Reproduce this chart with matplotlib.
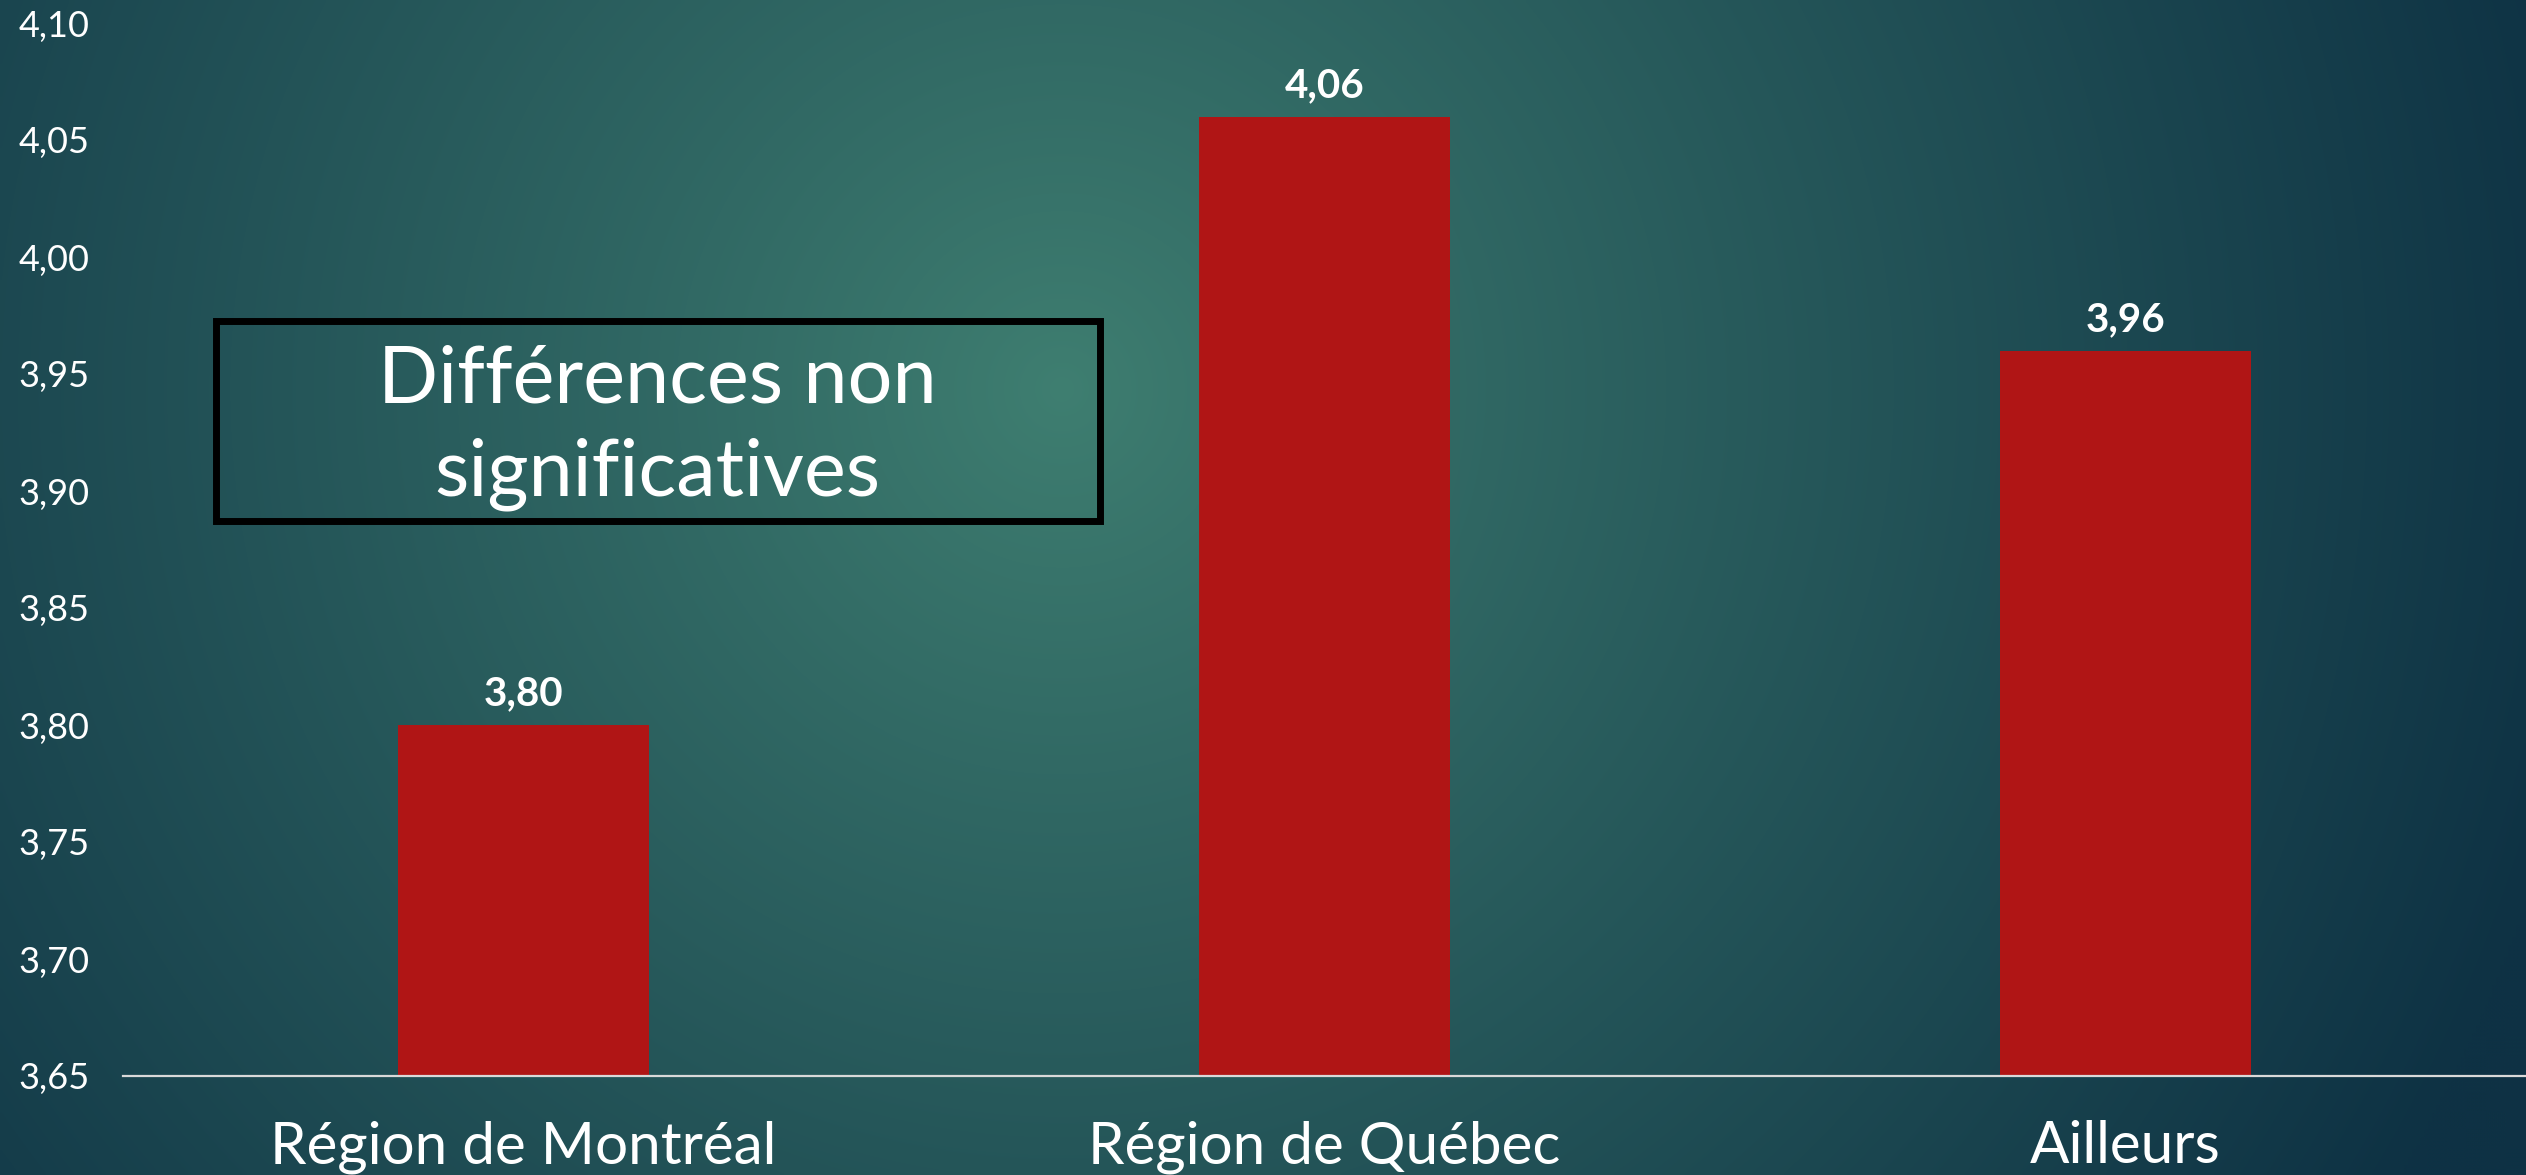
import numpy as np
import matplotlib
matplotlib.use('Agg')
import matplotlib.pyplot as plt
from matplotlib.ticker import FuncFormatter
from matplotlib.patches import Rectangle

# data
categories = ['Région de Montréal', 'Région de Québec', 'Ailleurs']
values = [3.80, 4.06, 3.96]
yticks = [3.65, 3.70, 3.75, 3.80, 3.85, 3.90, 3.95, 4.00, 4.05, 4.10]
note = 'Différences non\nsignificatives'

W, H = 2526, 1175
fig = plt.figure(figsize=(W / 100, H / 100), dpi=100)
plt.rcParams['font.family'] = ['Lato', 'DejaVu Sans']

# radial teal background
bg = fig.add_axes([0, 0, 1, 1], zorder=-10)
yy, xx = np.mgrid[0:H:4, 0:W:4]
r = np.sqrt((xx - 0.42 * W) ** 2 + (yy - 0.33 * H) ** 2)
t = np.clip(r / 1550, 0, 1) ** 0.9
c0 = np.array([63, 127, 113]) / 255
c1 = np.array([14, 50, 68]) / 255
img = c0[None, None, :] + (c1 - c0)[None, None, :] * t[..., None]
bg.imshow(img, extent=[0, 1, 0, 1], aspect='auto', interpolation='bilinear')
bg.axis('off')

ax = fig.add_axes([123 / W, 1 - 1076 / H, (W - 123) / W, (1076 - 23) / H])
ax.set_facecolor('none')

x = np.arange(len(categories))
bars = ax.bar(x, values, width=0.313, color='#b01515', zorder=2)
labels = [f'{v:.2f}'.replace('.', ',') for v in values]
ax.bar_label(bars, labels=labels, padding=9, color='white',
             fontsize=29, fontweight='bold')

ax.set_xlim(-0.5, 2.5)
ax.set_ylim(3.65, 4.10)
ax.set_yticks(yticks)
ax.yaxis.set_major_formatter(FuncFormatter(lambda v, p: f'{v:.2f}'.replace('.', ',')))
ax.set_xticks(x)
ax.set_xticklabels(categories)

for s in ['top', 'right', 'left']:
    ax.spines[s].set_visible(False)
ax.spines['bottom'].set_color('#d9d9d9')
ax.spines['bottom'].set_linewidth(1.6)

ax.tick_params(axis='y', length=0, pad=24, labelsize=26, labelcolor='white')
ax.tick_params(axis='x', length=0, pad=32, labelsize=42, labelcolor='white')

# annotation box
fig.patches.append(Rectangle((216 / W, 1 - 521 / H), (1100 - 216) / W, (521 - 321) / H,
                             transform=fig.transFigure, fill=False,
                             edgecolor='black', linewidth=5))
fig.text(657 / W, 1 - 428 / H, note, ha='center', va='center', color='white',
         fontsize=57, linespacing=1.36)

fig.savefig('out.png', dpi=100)
